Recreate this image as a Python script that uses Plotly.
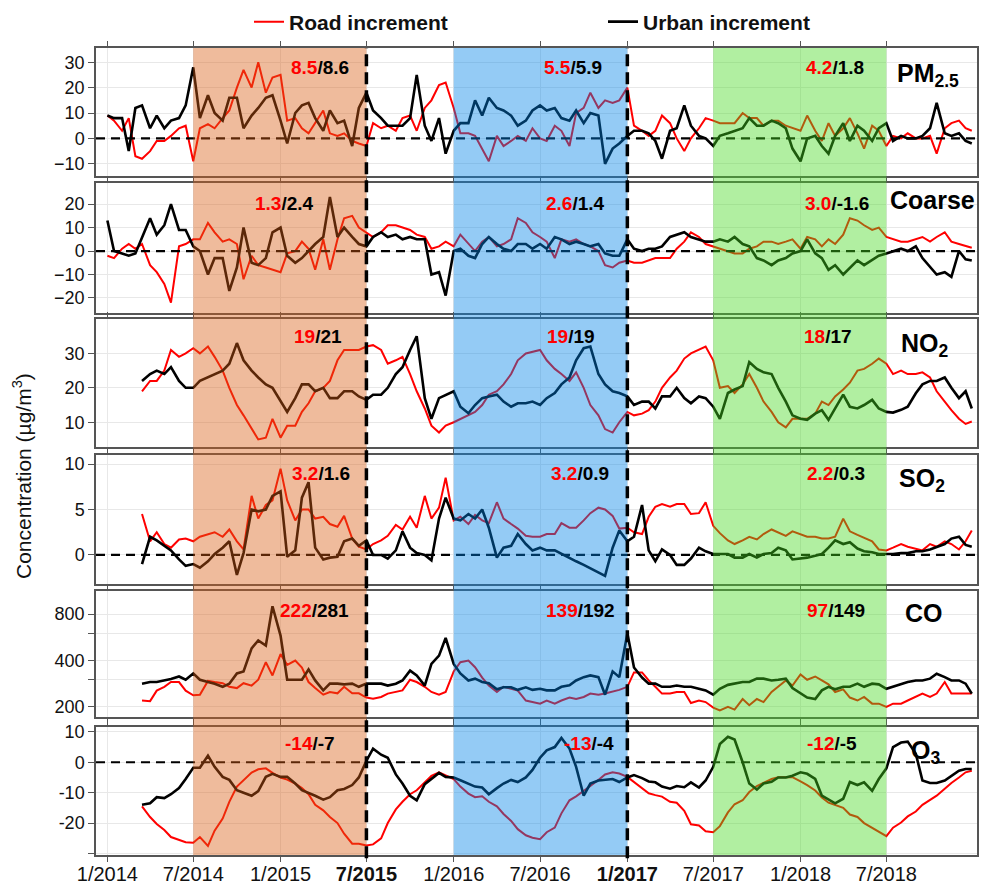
import pandas as pd
import plotly.graph_objects as go

# ---------------- data (semi-monthly readings) ----------------
dates = list(pd.date_range("2014-01-01", periods=120, freq="SMS")) + [pd.Timestamp("2018-12-28")]
N = None

pm25_road = [9, 7, 3, 8, -7, -8, -5, -1, -1, 1, 4, 5, -9,
             4, 5.6, 4, 8, 11, 20, 27, 20, 30, 18, 24, 25,
             7, 8, 4, 2, 6, 11, 2, 1, 2, -1, -2, -3,
             6, 4, 5, 3, 8, 9, 3, 12, 15, 21, 22, 12,
             2, 2, 1, -4, -9, 1, -3, -1, 1, -1, 4, 0,
             -1, 5, 3, -3, 10, 12, 18, 12, 15, 14, 15, 20,
             5, 3, 1, 3, 9, 6, 0, -5, 0, 4, 8, 7,
             6, 6, 6, 10, 8, 8, 5, 7, 7, 5, 4, 3,
             9, 3, -1, 6, 1, 4, 8, 2, -4, 5, 3, -3,
             1, 0, 2, 0, 0, 1, -6, 4, 6, 7, 4, 3]
pm25_urban = [9, 8, 8, -5, 12, 13, 4, 9, 4, 7, 8, 13, 28,
              8, 17, 10, 7, 16, 16, 4, 9, 12, 16, 17, 7,
              -2, 10, 13, 14, 8, 3, 11, 6, 7, -3, 12, 18,
              11, 8, 5, 5, 5, 8, 25, 5, -1, 8, -6, 3,
              6, 6, 15, 9, 16, 12, 11, 9, 5, 7, 11, 13,
              11, 12, 8, 7, 11, 6, 10, 9, -10, -4, -2, 1,
              3, 3, 2, -1, -8, 3, 4, 13, 5, 1, 0, -3,
              1, 2, 3, 4, 8, 5, 5, 7, 6, 4, -4, -9,
              0, 1, -3, -6, 1, 6, -1, 5, 3, -1, 4, 6,
              -1, 1, 0, 0, 1, 4, 14, 2, 1, 2, -1, -2]

coarse_road = [-2, -3, 1, 3, 1, 3, -6, -9, -14, -22, 2, 3, 5,
               5, 12, 8, 4, 5, 3, -12, -2, -6, -7, -8, -9,
               -1, 0, 4, 1, -8, 5, -8, 5, 14, 15, 10, 8,
               6, 8, 11, 11, 10, 9, 7, 6, 1, 2, 4, 2,
               7, 3, 0, 4, 6, 2, 3, 5, 14, 12, 8, 6,
               4, -3, 5, 4, 5, 3, 2, 0, -6, -7, -5, -4,
               -5, -5, -4, -3, -3, -3, 1, 4, 8, 6, 3, 2,
               1, 0, -1, -1, 1, 2, 4, 4, 3, 4, 5, 1,
               6, 5, 2, 5, 3, 7, 14, 13, 11, 9, 10, 6,
               5, 4, 4, 5, 6, 4, 6, 8, 4, 3, 2, 1.4]
coarse_urban = [13, 0, -1, -2, -1, 6, 14, 7, 11, 20, 9, 9, 2,
                0, -10, -3, -3, -17, -7, 10, -5, -6, -3, 8, 10,
                -2, -5, -3, 0, 3, 6, 23, 6, 10, 6, 3, 2,
                6, 8, 6, 7, 5, 6, 5, 5, -10, -9, -19, 0,
                1, -2, -3, 3, 6, 3, 1, 0, 3, 3, 1, 3,
                1, 6, 5, 3, 4, 3, 2, 3, -1, -2, -2, 5,
                1, 0, 1, 1, 2, 6, 7, 8, 6, 5, 4, 4,
                5, 4, 6, 3, 2, -3, -4, -6, -4, -3, -1, 0,
                5, -1, -3, -8, -6, -10, -7, -4, -6, -4, -2, -1,
                0, 1, 0, 2, -3, -7, -10, -9, -11, 0, -3.5, -4]

no2_road = [N, N, N, N, N, 19, 22, 22, 25, 31, 29, 30, 31.5,
            30, 32, 29, 25, 20, 15, 12, 8, 5, 5.5, 11, 5.5,
            9, 9, 13, 15.5, 19, 20, 22, 28, 31, 31, 31, 32,
            32.4, 31, 27, 28, 29, 24, 19, 14, 9, 7, 9, 10,
            11, 12, 13, 15, 18, 19, 21, 24, 28, 30, 30.5, 31,
            28, 25.5, 24, 22, 24.5, 20, 15, 12, 8, 7, 10, 13,
            12, 12.5, 13.5, 16, 20, 23, 25, 28.5, 30, 31, 32, 28,
            20, 20.5, 18.5, 21, 24, 20, 16, 13, 10, 8.5, 11, 11,
            11, 12.5, 16, 15, 17.5, 19.5, 21.5, 25, 25.5, 27, 28.5, 27,
            24, 25, 24, 24, 24.5, 23, 19, 16, 13.5, 11, 9.5, 10.2]
no2_urban = [N, N, N, N, N, 22, 24, 25, 24, 26, 22, 20, 20,
             22, 23, 24, 25, 27, 33, 28, 25, 23, 21, 20, 16,
             13, 17, 21, 21, 19, 20, 17, 17, 19, 19, 17.5, 16.5,
             18, 18, 20, 24, 26, 31, 35, 17, 11, 17, 18, 19,
             14.5, 12.6, 15, 17, 17.5, 18, 16, 14.5, 15.5, 15.5, 16, 15,
             17, 18.5, 21, 23, 28, 31.5, 32, 24, 21, 19, 18.5, 17.5,
             15, 16, 16, 14, 17.5, 17.5, 20, 17, 15.5, 17.5, 17, 14.5,
             11, 18.5, 19.5, 20.5, 27.5, 25.5, 24.5, 24, 20, 16, 12, 11,
             10.7, 12.5, 13.5, 10.7, 14, 18, 14.5, 14, 15, 16.5, 14, 13,
             12.8, 13.6, 14.5, 18.4, 21, 22, 22, 23, 20, 17, 19, 14]

so2_road = [N, N, N, N, N, 4.5, 1.5, 2.5, 1.2, 0.8, 1.7, 1.8, 1.5,
            2.0, 2.3, 2.5, 2.0, 2.8, 1.5, 0.6, 6.5, 4.0, 5.5, 6.0, 9.5,
            6.0, 3.8, 5.0, 5.0, 4.0, 4.2, 3.4, 3.1, 4.3, 1.8, 0.9, 0.6,
            1.2, 1.6, 2.1, 3.3, 2.8, 4.2, 3.0, 6.5, 4.0, 5.2, 8.5, 3.8,
            4.2, 3.4, 4.4, 3.8, 3.5, 5.8, 4.0, 3.4, 2.9, 2.1, 2.0, 2.0,
            2.3, 2.3, 3.5, 3.0, 3.0, 3.8, 4.6, 5.2, 5.0, 4.3, 2.9, 3.0,
            2.5, 2.3, 4.2, 5.3, 5.6, 5.3, 5.6, 5.6, 4.5, 4.6, 5.8, 3.2,
            2.4, 1.6, 1.2, 1.6, 2.0, 1.7, 2.3, 2.8, 2.5, 2.1, 2.6, 2.3,
            2.0, 2.0, 1.8, 1.8, 2.0, 4.0, 2.6, 2.2, 1.9, 1.5, 0.6, 0.5,
            0.8, 1.2, 0.9, 0.7, 0.5, 1.2, 0.9, 1.5, 1.2, 0.6, 1.5, 2.7]
so2_urban = [N, N, N, N, N, -1.0, 2.0, 1.6, 1.0, 0.5, -0.5, -1.2, -1.0,
             -1.4, -0.7, 0.1, 0.8, 1.5, -2.2, 0.2, 5.0, 4.8, 5.0, 6.5, 7.0,
             -0.2, 0.5, 6.3, 8.0, 0.8, -0.5, -0.3, -0.2, 1.5, 1.8, 1.0, 1.6,
             0.0, 0.0, -0.4, 0.5, 2.6, 0.8, 0.2, 0.0, -0.6, 4.0, 6.3, 4.0,
             3.8, 4.5, 4.0, 5.0, 3.0, -0.3, 0.8, 1.0, 2.3, 1.2, 0.5, 0.8,
             0.5, 0.5, 0.1, -0.3, -0.7, -1.1, -1.5, -1.9, -2.3, 0.8, 2.7, 1.5,
             2.0, 5.5, 0.5, -0.7, 0.6, 0.0, -1.1, -1.1, -0.4, 0.8, 0.4, 0.1,
             0.1, 0.1, -0.3, -0.3, 0.1, -0.3, 0.1, 0.2, 0.8, 0.5, -0.5, -0.4,
             -0.3, -0.1, 0.1, 0.8, 1.6, 1.2, 1.4, 0.7, 0.4, 0.3, 0.1, 0.1,
             0.1, 0.2, 0.2, 0.4, 0.4, 0.6, 0.9, 1.2, 1.8, 2.0, 1.1, 0.9]

co_road = [N, N, N, N, N, 220, 218, 255, 270, 290, 290, 255, 238,
           240, 295, 290, 285, 270, 265, 285, 275, 300, 390, 320, 440,
           375, 400, 360, 290, 265, 240, 250, 245, 270, 245, 245, 230,
           226, 232, 244, 250, 256, 300, 290, 270, 250, 240, 250, 340,
           390, 400, 362, 310, 275, 250, 270, 262, 255, 220, 215, 210,
           220, 210, 220, 230, 225, 232, 244, 240, 244, 250, 258, 270,
           335, 335, 297, 270, 244, 244, 250, 250, 212, 220, 215, 198,
           190, 200, 192, 225, 205, 225, 215, 250, 270, 297, 275, 325,
           300, 315, 297, 280, 250, 260, 230, 220, 232, 210, 210, 200,
           210, 210, 220, 232, 244, 232, 244, 290, 244, 244, 244, 244]
co_urban = [N, N, N, N, N, 283, 290, 290, 297, 303, 315, 300, 330,
            300, 290, 283, 270, 283, 330, 340, 480, 540, 500, 900, 580,
            300, 300, 300, 350, 297, 256, 283, 283, 280, 283, 270, 283,
            283, 283, 275, 283, 297, 344, 320, 275, 380, 430, 560, 380,
            330, 297, 305, 290, 285, 260, 268, 268, 258, 268, 258, 262,
            256, 256, 270, 276, 297, 312, 320, 312, 240, 340, 312, 600,
            360, 310, 283, 283, 270, 270, 275, 270, 270, 262, 256, 240,
            262, 278, 283, 290, 290, 305, 305, 297, 300, 305, 265, 244,
            230, 225, 256, 270, 260, 270, 270, 283, 270, 283, 280, 262,
            270, 283, 290, 297, 297, 305, 328, 312, 297, 297, 283, 244]

o3_road = [N, N, N, N, N, -14.5, -18, -20.3, -22.3, -24.6, -25.5, -26.3, -26.5,
           -24.6, -27.5, -22.5, -18.5, -13, -8, -5.8, -3.4, -2.3, -2.0, -3.5, -5.0,
           -5.7, -7.0, -8.5, -10.5, -14, -15.8, -18, -20, -23.5, -26.8, -26.8, -27.4,
           -27, -25, -20, -15.5, -13, -10.5, -9.2, -6.5, -4.5, -3.3, -4.4, -5.5,
           -8, -10.3, -11.5, -11.2, -13, -14.5, -17, -19.3, -22, -24, -24.8, -25.3,
           -23, -21.5, -16.8, -12.5, -11.2, -9.5, -7.8, -5.8, -4, -3.3, -3.7, -4.8,
           -6.5, -8.5, -10.2, -10.8, -11.3, -13, -13.3, -16, -20.4, -20.8, -22.7, -23,
           -21, -16.5, -13.8, -12.5, -9.8, -7.8, -6.8, -5.5, -4.9, -4.8, -4.9, -6.3,
           -7.5, -9.3, -11.6, -13.3, -14, -15, -17.2, -18, -20, -21.5, -22.8, -24.3,
           -21.5, -19.8, -17.8, -16.2, -14, -12.5, -11, -8.7, -6.8, -5, -3.3, -2.8]
o3_urban = [N, N, N, N, N, -14, -13.5, -11.5, -11.8, -10.5, -8.5, -5.5, -1.8,
            -1.8, 2.2, -1.5, -4.8, -5.8, -9.2, -10, -11, -9.5, -4.8, -3.8, -4.8,
            -4.8, -7, -9.2, -10, -11, -12.3, -11.5, -9.2, -8.8, -7.5, -5, 0.5,
            4.5, 2.5, 1.5, -4, -7, -11, -12.5, -7.2, -5.5, -3.5, -4.8, -5,
            -5.9, -7.0, -8.0, -8.3, -10.5, -8.5, -7, -5.8, -6.5, -5, -2.5, 1.5,
            3.9, 5, 8, 4.5, -1.5, -11, -7, -6, -5.8, -5.5, -6.5, -5,
            -4.2, -5.2, -6.3, -6.6, -8, -8.7, -7.8, -8.2, -6.6, -8.3, -6, -1.5,
            6, 8.4, 7.5, 0, -7, -9, -7, -6.4, -5, -5, -4.4, -3.3,
            -3.8, -5.5, -11, -12.2, -13.5, -12, -6.5, -7.5, -6.6, -9.4, -5.5, -2,
            5, 6.5, 6.8, 2.8, -6, -6.8, -6.8, -6, -4.5, -2.8, -2.2, -2.2]

panel_names = ["PM<sub>2.5</sub>", "Coarse", "NO<sub>2</sub>", "SO<sub>2</sub>", "CO", "O<sub>3</sub>"]
road_series = [pm25_road, coarse_road, no2_road, so2_road, co_road, o3_road]
urban_series = [pm25_urban, coarse_urban, no2_urban, so2_urban, co_urban, o3_urban]
period_means = [
    [("8.5", "8.6"), ("5.5", "5.9"), ("4.2", "1.8")],
    [("1.3", "2.4"), ("2.6", "1.4"), ("3.0", "-1.6")],
    [("19", "21"), ("19", "19"), ("18", "17")],
    [("3.2", "1.6"), ("3.2", "0.9"), ("2.2", "0.3")],
    [("222", "281"), ("139", "192"), ("97", "149")],
    [("-14", "-7"), ("-13", "-4"), ("-12", "-5")],
]
periods = [("2014-07-01", "2015-07-01"), ("2016-01-01", "2017-01-01"), ("2017-07-01", "2018-07-01")]
change_dates = ["2015-07-01", "2017-01-01"]
tick_dates = ["2014-01-01", "2014-07-01", "2015-01-01", "2015-07-01", "2016-01-01",
              "2016-07-01", "2017-01-01", "2017-07-01", "2018-01-01", "2018-07-01"]
tick_text = ["1/2014", "7/2014", "1/2015", "<b>7/2015</b>", "1/2016",
             "7/2016", "<b>1/2017</b>", "7/2017", "1/2018", "7/2018"]

# ---------------- layout geometry ----------------
W, H = 981, 888
ML, MR, MT, MB = 96, 4, 48, 33
PW = W - ML - MR
PH = H - MT - MB


def px_x(px):
    return (px - ML) / PW


def px_y(py):
    return (H - MB - py) / PH


panel_px = [(48, 176), (183, 313), (319, 447), (455, 584), (591, 717), (727, 855)]
y_ranges = [[-14.8, 35.6], [-26.4, 29], [2.8, 40], [-3.2, 11], [2.2355, 3.0531], [-30.5, 11.6]]
y_ticks = [[-10, 0, 10, 20, 30], [-20, -10, 0, 10, 20], [10, 20, 30], [0, 5, 10],
           [200, 300, 400, 600, 800], [-30, -20, -10, 0, 10]]
y_ticktext = [None, None, None, None, ["200", " ", "400", " ", "800"], [" ", "-20", "-10", "0", "10"]]
zero_line = [True, True, False, True, False, True]
label_px = [(928, 75), (932, 200), (925, 345), (922, 480), (924, 613), (925, 752)]
means_px = [
    [(351, 67), (604, 67), (866, 67)],
    [(316, 203), (607, 203), (871, 203)],
    [(344, 336), (597, 336), (854, 336)],
    [(352, 473), (611, 473), (867, 473)],
    [(351, 610), (617, 610), (867, 610)],
    [(337, 743), (616, 743), (859, 743)],
]

FONT = "Liberation Sans, Arial, sans-serif"
RED = "#ff0000"
AXC = "#555555"
GRID = "#e8e8e8"

fig = go.Figure()
for i in range(6):
    xa = "x" if i == 0 else f"x{i+1}"
    ya = "y" if i == 0 else f"y{i+1}"
    fig.add_trace(go.Scatter(x=dates, y=road_series[i], mode="lines", xaxis=xa, yaxis=ya,
                             line=dict(color=RED, width=2), name="<b>Road increment</b>",
                             showlegend=(i == 0), legend="legend"))
    fig.add_trace(go.Scatter(x=dates, y=urban_series[i], mode="lines", xaxis=xa, yaxis=ya,
                             line=dict(color="black", width=2.6), name="<b>Urban increment</b>",
                             showlegend=(i == 0), legend="legend2"))

leg_common = dict(orientation="h", yanchor="middle", xanchor="left", y=px_y(22),
                  font=dict(family=FONT, size=21, color="#111111"), bgcolor="rgba(0,0,0,0)",
                  borderwidth=0)
layout = dict(
    width=W, height=H,
    margin=dict(l=ML, r=MR, t=MT, b=MB, autoexpand=False),
    paper_bgcolor="white", plot_bgcolor="white",
    font=dict(family=FONT, size=17, color="#111111"),
    legend=dict(x=px_x(249), **leg_common),
    legend2=dict(x=px_x(603), **leg_common),
    hovermode=False,
)

for i in range(6):
    top, bot = panel_px[i]
    xkey = "xaxis" if i == 0 else f"xaxis{i+1}"
    ykey = "yaxis" if i == 0 else f"yaxis{i+1}"
    xa = dict(type="date", range=["2013-12-08", "2019-01-08"], tickvals=tick_dates, ticktext=tick_text,
              showgrid=True, gridcolor=GRID, gridwidth=1, showline=True, linecolor=AXC, linewidth=1.5,
              mirror="ticks", ticks="outside", ticklen=5, tickcolor=AXC, zeroline=False,
              anchor="y" if i == 0 else f"y{i+1}", showticklabels=(i == 5), fixedrange=True,
              ticklabelstandoff=-5,
              tickfont=dict(family=FONT, size=20, color="#111111"))
    if i > 0:
        xa["matches"] = "x"
    layout[xkey] = xa
    ya = dict(domain=[px_y(bot), px_y(top)], range=y_ranges[i], tickvals=y_ticks[i],
              showgrid=True, gridcolor=GRID, gridwidth=1, showline=True, linecolor=AXC, linewidth=1.5,
              mirror=True, ticks="outside", ticklen=6, tickcolor=AXC, zeroline=False,
              anchor="x" if i == 0 else f"x{i+1}", fixedrange=True,
              tickfont=dict(family=FONT, size=18, color="#111111"))
    if y_ticktext[i] is not None:
        ya["ticktext"] = y_ticktext[i]
    if i == 4:
        ya["type"] = "log"
    layout[ykey] = ya

fig.update_layout(**layout)

shapes = []
for i in range(6):
    if zero_line[i]:
        xd = "x domain" if i == 0 else f"x{i+1} domain"
        yr = "y" if i == 0 else f"y{i+1}"
        shapes.append(dict(type="line", xref=xd, yref=yr, x0=0, x1=1, y0=0, y1=0,
                           line=dict(color="black", width=2.2, dash="9px,6px"), layer="above"))
band_colors = ["rgb(218,93,18)", "rgb(0,130,230)", "rgb(68,218,30)"]
for (a, b), c in zip(periods, band_colors):
    shapes.append(dict(type="rect", xref="x", yref="paper", x0=a, x1=b, y0=0, y1=1,
                       fillcolor=c, opacity=0.42, line=dict(width=0), layer="above"))
for d in change_dates:
    shapes.append(dict(type="line", xref="x", yref="paper", x0=d, x1=d, y0=-0.004, y1=1,
                       line=dict(color="black", width=3.5, dash="12px,6px"), layer="above"))
fig.update_layout(shapes=shapes)

ann = []
for i in range(6):
    lx, ly = label_px[i]
    ann.append(dict(text=f"<b>{panel_names[i]}</b>", xref="paper", yref="paper",
                    x=px_x(lx), y=px_y(ly), xanchor="center", yanchor="middle", showarrow=False,
                    font=dict(family=FONT, size=25, color="black")))
    for (r, u), (mx, my) in zip(period_means[i], means_px[i]):
        ann.append(dict(text=f"<b><span style='color:{RED}'>{r}</span>/{u}</b>", xref="paper", yref="paper",
                        x=px_x(mx), y=px_y(my), xanchor="right", yanchor="middle", showarrow=False,
                        font=dict(family=FONT, size=19, color="black")))
ann.append(dict(text="Concentration (µg/m<sup>3</sup>)", xref="paper", yref="paper",
                x=px_x(22), y=px_y(476), xanchor="center", yanchor="middle", textangle=-90,
                showarrow=False, font=dict(family=FONT, size=21, color="#111111")))
fig.update_layout(annotations=ann)

fig.write_html("out.html", config={"displayModeBar": False},
               post_script="document.body.style.margin='0';document.body.style.padding='0';")
